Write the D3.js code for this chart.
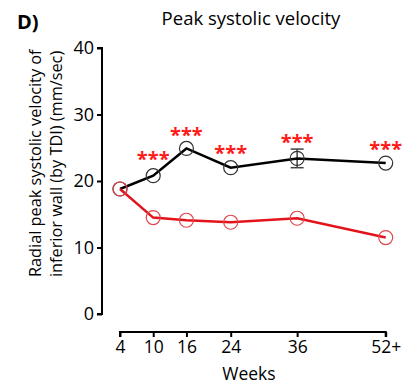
<!DOCTYPE html>
<html>
<head>
<meta charset="utf-8">
<script src="https://cdn.jsdelivr.net/npm/d3@7/dist/d3.min.js"></script>
<style>
  html, body { margin: 0; padding: 0; background: #fff; }
  svg { display: block; font-family: "Open Sans", "Noto Sans", sans-serif; }
</style>
</head>
<body>
<svg id="chart" width="419" height="387"></svg>
<script>
// Time points (weeks) and tick labels
const weeks = [4, 10, 16, 24, 36, 52];
const weekLabels = ["4", "10", "16", "24", "36", "52+"];

// Radial peak systolic velocity (mm/sec)
const controlMeans = [18.8, 20.8, 24.9, 22.0, 23.4, 22.7];
const controlErr   = [0.3, 0.4, 0.4, 0.4, 1.4, 0.4];
const diseaseMeans = [18.8, 14.5, 14.1, 13.8, 14.4, 11.5];

// Significance markers above the control series
const sigWeeks  = [10, 16, 24, 36, 52];
const sigLevels = [23.8, 27.4, 24.6, 26.3, 25.3];
const sigText   = "***";

const yTicks = [0, 10, 20, 30, 40];

const svg = d3.select("#chart");

const x = d3.scaleLinear().domain([4, 52]).range([120, 385.7]);
const y = d3.scaleLinear().domain([0, 40]).range([314, 48]);

// Panel letter and title
svg.append("text").attr("x", 17).attr("y", 29)
  .attr("font-size", 20).attr("font-weight", "bold").text("D)");
svg.append("text").attr("x", 251).attr("y", 25)
  .attr("text-anchor", "middle").attr("font-size", 18.5).text("Peak systolic velocity");

// Y axis
const yAxis = svg.append("g").attr("transform", "translate(102,0)")
  .call(d3.axisLeft(y).tickValues(yTicks).tickSize(5).tickPadding(3));
yAxis.select(".domain").attr("stroke-width", 2).attr("d", `M-5,${y(40)}H0V${y(0)}H-5`);
yAxis.selectAll(".tick line").attr("stroke-width", 2);
yAxis.selectAll(".tick text").attr("font-size", 18).attr("fill", "#000")
  .attr("font-family", "Open Sans, sans-serif");

// X axis (offset below the plot)
const xAxis = svg.append("g").attr("transform", "translate(0,332)")
  .call(d3.axisBottom(x).tickValues(weeks).tickFormat((d, i) => weekLabels[i]).tickSize(5).tickPadding(4));
xAxis.select(".domain").attr("stroke-width", 2).attr("d", `M${x(4)},5V0H${x(52)}V5`);
xAxis.selectAll(".tick line").attr("stroke-width", 2);
xAxis.selectAll(".tick text").attr("font-size", 17.5).attr("fill", "#000")
  .attr("font-family", "Open Sans, sans-serif");

// Axis titles
svg.append("text").attr("x", 249).attr("y", 380)
  .attr("text-anchor", "middle").attr("font-size", 17.5).text("Weeks");
const yTitle = svg.append("text").attr("transform", "translate(0,277) rotate(-90)")
  .attr("font-size", 16.3);
yTitle.append("tspan").attr("x", 0).attr("y", 41).text("Radial peak systolic velocity of");
yTitle.append("tspan").attr("x", 0).attr("y", 62).text("inferior wall (by TDI) (mm/sec)");

const line = d3.line().x((d, i) => x(weeks[i])).y(d => y(d));

// Control series (black) with error bars where they extend past the marker
svg.append("g").selectAll("g").data(controlMeans).join("g").each(function (d, i) {
  if (controlErr[i] < 1) return;
  const g = d3.select(this), cx = x(weeks[i]);
  g.append("line").attr("x1", cx).attr("x2", cx).attr("y1", y(d - controlErr[i])).attr("y2", y(d + controlErr[i]))
    .attr("stroke", "#444").attr("stroke-width", 1.5);
  [d - controlErr[i], d + controlErr[i]].forEach(v => g.append("line")
    .attr("x1", cx - 6.5).attr("x2", cx + 6.5).attr("y1", y(v)).attr("y2", y(v))
    .attr("stroke", "#444").attr("stroke-width", 1.5));
});
svg.append("path").datum(controlMeans).attr("d", line)
  .attr("fill", "none").attr("stroke", "#000").attr("stroke-width", 2.5);
svg.append("g").selectAll("circle").data(controlMeans).join("circle")
  .attr("cx", (d, i) => x(weeks[i])).attr("cy", d => y(d)).attr("r", 7)
  .attr("fill", "none").attr("stroke", "#333").attr("stroke-width", 1.2);

// Disease series (red)
svg.append("path").datum(diseaseMeans).attr("d", line)
  .attr("fill", "none").attr("stroke", "#e3131b").attr("stroke-width", 2.5);
svg.append("g").selectAll("circle").data(diseaseMeans).join("circle")
  .attr("cx", (d, i) => x(weeks[i])).attr("cy", d => y(d)).attr("r", 7)
  .attr("fill", "none").attr("stroke", "#e0454b").attr("stroke-width", 1.2);

// Significance stars
svg.append("g").selectAll("text").data(sigLevels).join("text")
  .attr("x", (d, i) => x(sigWeeks[i])).attr("y", d => y(d) + 10)
  .attr("text-anchor", "middle").attr("font-size", 20).attr("font-weight", "bold")
  .attr("fill", "#ff1a1a").text(sigText);
</script>
</body>
</html>
